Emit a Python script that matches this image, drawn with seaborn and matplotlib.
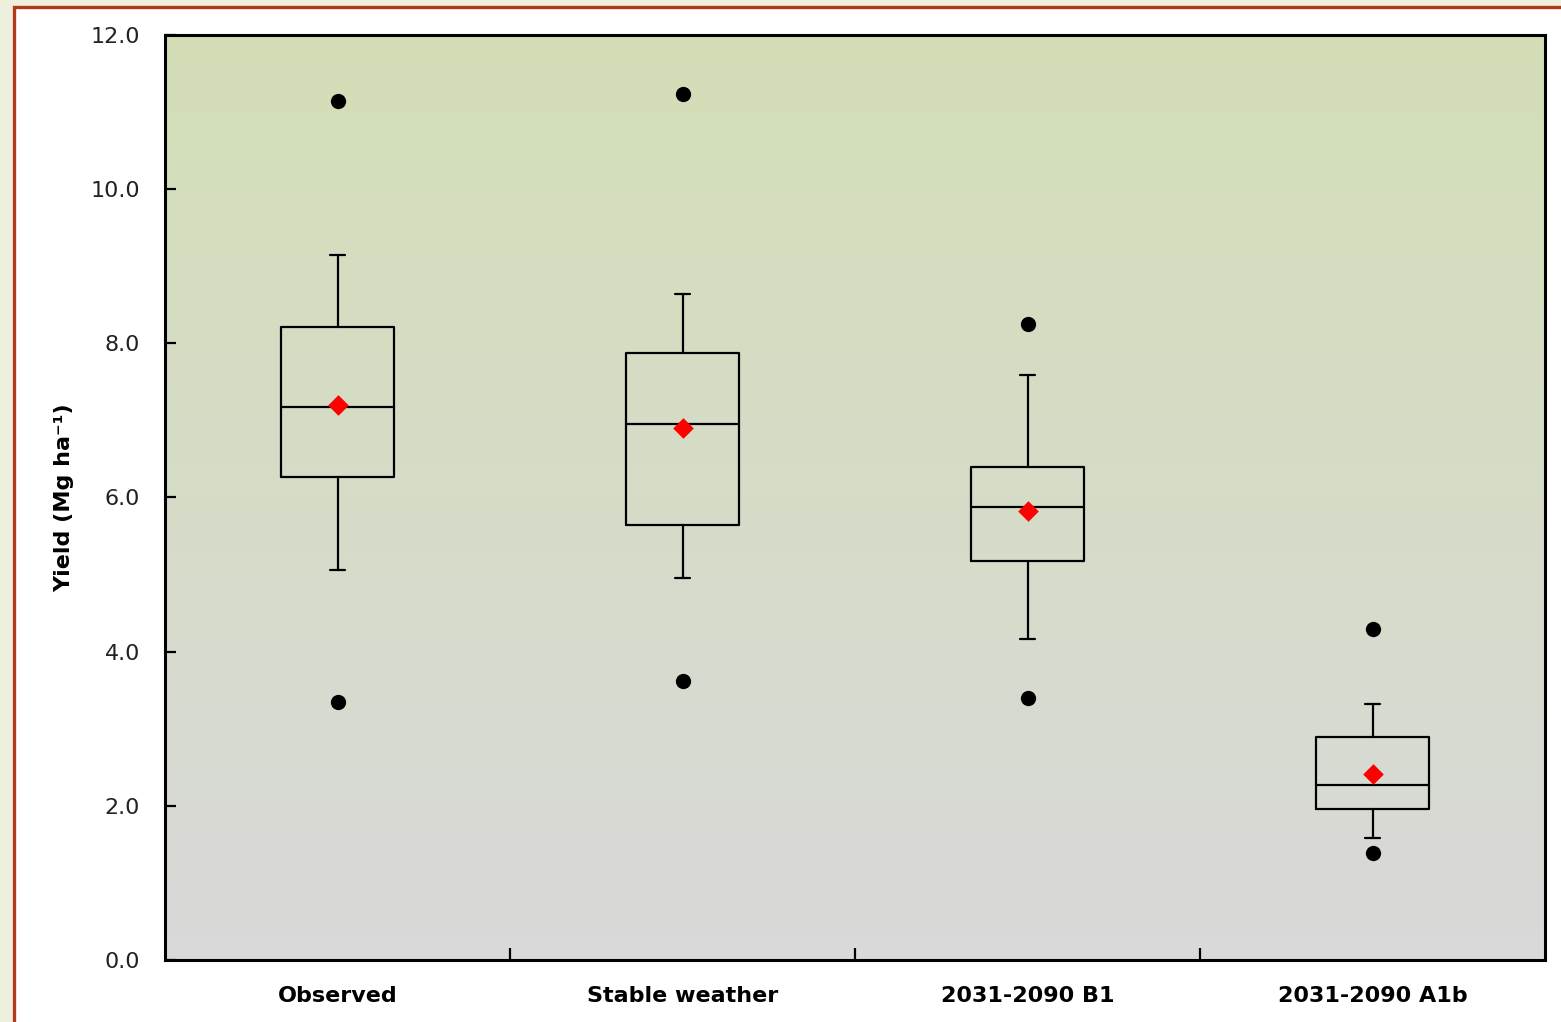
"""
Yield box plots: observed vs. stable weather vs. two climate scenarios.
Box statistics read off the original figure.
"""

import numpy as np
import pandas as pd
import matplotlib
matplotlib.use("Agg")
import matplotlib.pyplot as plt
from matplotlib.colors import LinearSegmentedColormap
from matplotlib.patches import Rectangle
import seaborn as sns

# scenarios on the x axis
scenarios = ["Observed", "Stable weather", "2031-2090 B1", "2031-2090 A1b"]

# box statistics (Mg ha-1)
whisker_low = [5.06, 4.96, 4.16, 1.58]
q1 = [6.27, 5.64, 5.18, 1.96]
median = [7.17, 6.95, 5.88, 2.27]
q3 = [8.21, 7.87, 6.40, 2.89]
whisker_high = [9.15, 8.64, 7.59, 3.32]
means = [7.20, 6.90, 5.83, 2.41]

# outliers, one low and one high per scenario
outlier_low = [3.35, 3.62, 3.40, 1.39]
outlier_high = [11.14, 11.23, 8.25, 4.29]

y_ticks = [0, 2, 4, 6, 8, 10, 12]


def build_stats():
    stats = []
    for i, name in enumerate(scenarios):
        stats.append({
            "label": name,
            "whislo": whisker_low[i],
            "q1": q1[i],
            "med": median[i],
            "q3": q3[i],
            "whishi": whisker_high[i],
            "mean": means[i],
            "fliers": [],
        })
    return stats


def main():
    sns.set_theme(style="white")
    plt.rcParams["font.family"] = ["DejaVu Sans"]

    fig = plt.figure(figsize=(15.61, 10.22), dpi=100)
    fig.patch.set_facecolor("#edf0dd")
    # white panel with the brown frame line (behind the axes)
    frame = Rectangle((14 / 1561, -0.05), 1.2, 1.05 - 7 / 1022,
                      transform=fig.transFigure, facecolor="white",
                      edgecolor="#b2391e", linewidth=2.4, zorder=-5)
    fig.add_artist(frame)

    ax = fig.add_axes([0.1057, 0.0607, 0.8841, 0.9051])
    ax.set_facecolor("none")

    out_df = pd.DataFrame({
        "scenario": scenarios * 2,
        "yield": outlier_low + outlier_high,
    })
    mean_df = pd.DataFrame({"scenario": scenarios, "yield": means})

    # gradient background
    cmap = LinearSegmentedColormap.from_list("bg", ["#d9d9d9", "#d3dfb7"])
    grad = np.linspace(0, 1, 256).reshape(-1, 1)
    ax.imshow(grad, extent=(-0.5, 3.5, 0, 12), origin="lower", aspect="auto",
              cmap=cmap, zorder=0)

    ax.bxp(build_stats(), positions=range(len(scenarios)), widths=0.33,
           capwidths=0.045, showmeans=False, showfliers=False, patch_artist=False,
           boxprops=dict(color="black", linewidth=1.6),
           medianprops=dict(color="black", linewidth=1.6),
           whiskerprops=dict(color="black", linewidth=1.6),
           capprops=dict(color="black", linewidth=1.6), manage_ticks=False)

    sns.stripplot(data=out_df, x="scenario", y="yield", order=scenarios,
                  jitter=False, color="black", size=11, linewidth=0, ax=ax, zorder=3)
    sns.stripplot(data=mean_df, x="scenario", y="yield", order=scenarios,
                  jitter=False, color="red", marker="D", size=10.5, linewidth=0,
                  ax=ax, zorder=4)

    ax.set_xlim(-0.5, 3.5)
    ax.set_ylim(0, 12)
    ax.set_yticks(y_ticks)
    ax.set_yticklabels([f"{v:.1f}" for v in y_ticks], fontsize=16, color="#222222")
    ax.set_xticks(range(len(scenarios)))
    ax.set_xticklabels(scenarios, fontsize=16, fontweight="bold", color="black")
    ax.set_xticks([0.5, 1.5, 2.5], minor=True)
    ax.tick_params(axis="x", which="major", length=0, pad=19)
    ax.tick_params(axis="x", which="minor", direction="in", length=9, width=1.6,
                   color="black", bottom=True)
    ax.tick_params(axis="y", direction="in", length=8, width=1.6, color="black",
                   pad=18, left=True)

    ax.set_xlabel("")
    ax.set_ylabel("Yield (Mg ha⁻¹)", fontsize=16, fontweight="bold",
                  color="black", labelpad=12)

    for side in ["left", "right", "top", "bottom"]:
        ax.spines[side].set_visible(True)
        ax.spines[side].set_color("black")
        ax.spines[side].set_linewidth(2.2)

    fig.savefig("out.png", dpi=100, facecolor=fig.get_facecolor())


if __name__ == "__main__":
    main()
